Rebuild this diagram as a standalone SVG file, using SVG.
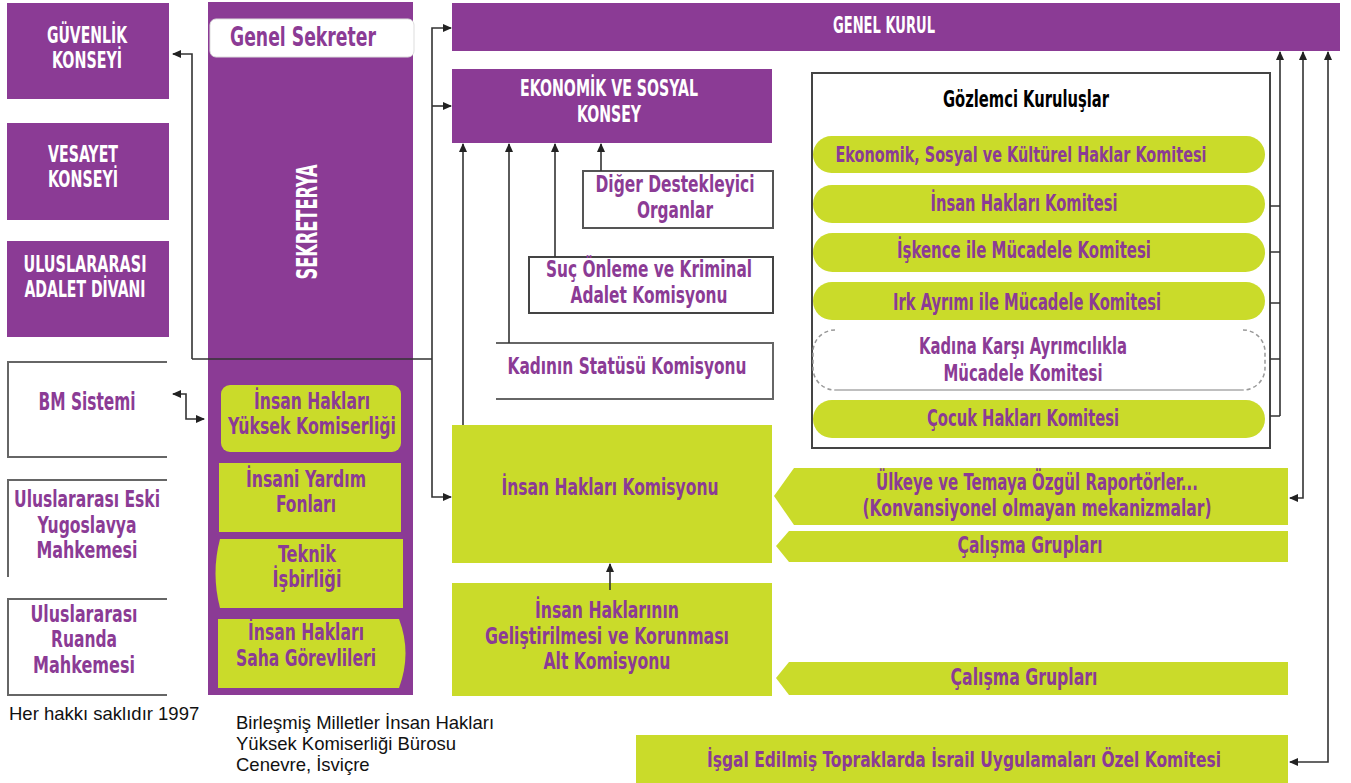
<svg xmlns="http://www.w3.org/2000/svg" width="1351" height="783" viewBox="0 0 1351 783">
<defs>
<style>
.p{fill:#8B3B95}
.g{fill:#CADB2A}
.t{font-family:"Liberation Sans Narrow","DejaVu Sans Condensed","Liberation Sans",sans-serif;font-weight:bold;font-size:23px;text-anchor:middle}
.w{fill:#fff}
.pt{fill:#8B3B95}
.k{fill:#000}
.f{font-family:"Liberation Sans",Arial,sans-serif;font-size:18.5px;fill:#111}
.c{fill:none;stroke:#333;stroke-width:1.6}
.b{fill:none;stroke:#666;stroke-width:2}
</style>
<marker id="ah" markerUnits="userSpaceOnUse" markerWidth="9" markerHeight="8" refX="8" refY="4" orient="auto-start-reverse">
<path d="M0,0 L9,4 L0,8 z" fill="#222"/>
</marker>
</defs>
<rect width="1351" height="783" fill="#fff"/>

<g id="guvenlik"><rect class="p" x="7" y="3" width="162" height="96"/>
<text class="t w" x="87" y="43" textLength="80" lengthAdjust="spacingAndGlyphs">GÜVENLİK</text>
<text class="t w" x="87" y="68" textLength="70" lengthAdjust="spacingAndGlyphs">KONSEYİ</text></g>

<g id="vesayet"><rect class="p" x="7" y="123" width="162" height="97"/>
<text class="t w" x="83" y="162" textLength="70" lengthAdjust="spacingAndGlyphs">VESAYET</text>
<text class="t w" x="83" y="187" textLength="70" lengthAdjust="spacingAndGlyphs">KONSEYİ</text></g>

<g id="uad"><rect class="p" x="7" y="241" width="162" height="96"/>
<text class="t w" x="85" y="272" textLength="123" lengthAdjust="spacingAndGlyphs">ULUSLARARASI</text>
<text class="t w" x="85" y="297" textLength="121" lengthAdjust="spacingAndGlyphs">ADALET DİVANI</text></g>

<g id="bm"><path class="b" d="M167,362 H8 V457 H167" stroke="#777"/>
<text class="t pt" x="87" y="410" style="font-size:24px" textLength="97" lengthAdjust="spacingAndGlyphs">BM Sistemi</text></g>

<g id="yugoslavya"><path class="b" d="M167,480 H8 V577" stroke="#999"/>
<text class="t pt" x="87" y="507" textLength="146" lengthAdjust="spacingAndGlyphs">Uluslararası Eski</text>
<text class="t pt" x="87" y="533" textLength="99" lengthAdjust="spacingAndGlyphs">Yugoslavya</text>
<text class="t pt" x="87" y="558" textLength="101" lengthAdjust="spacingAndGlyphs">Mahkemesi</text></g>

<g id="ruanda"><path class="b" d="M167,599 H8 V695 H167" stroke="#555"/>
<text class="t pt" x="84" y="622" textLength="107" lengthAdjust="spacingAndGlyphs">Uluslararası</text>
<text class="t pt" x="84" y="647" textLength="66" lengthAdjust="spacingAndGlyphs">Ruanda</text>
<text class="t pt" x="84" y="673" textLength="102" lengthAdjust="spacingAndGlyphs">Mahkemesi</text></g>

<g id="sekreterya"><rect class="p" x="208" y="2" width="205" height="693"/>
<text class="t w" transform="translate(317,222) rotate(-90)" x="0" y="0" style="font-size:29px" textLength="115" lengthAdjust="spacingAndGlyphs">SEKRETERYA</text></g>

<g id="genel-sekreter"><rect x="210" y="19" width="204" height="38" rx="6" fill="#fff" stroke="#ddd"/>
<text class="t pt" x="303" y="46" style="font-size:27px" textLength="146" lengthAdjust="spacingAndGlyphs">Genel Sekreter</text></g>

<g id="yuksek-komiserlik"><rect class="g" x="221" y="385" width="180" height="67" rx="9"/>
<text class="t pt" x="312" y="409" textLength="116" lengthAdjust="spacingAndGlyphs">İnsan Hakları</text>
<text class="t pt" x="312" y="434" textLength="168" lengthAdjust="spacingAndGlyphs">Yüksek Komiserliği</text></g>

<g id="insani-yardim"><rect class="g" x="219" y="463" width="182" height="69"/>
<text class="t pt" x="306" y="487" textLength="120" lengthAdjust="spacingAndGlyphs">İnsani Yardım</text>
<text class="t pt" x="306" y="512" textLength="60" lengthAdjust="spacingAndGlyphs">Fonları</text></g>

<g id="teknik"><path class="g" d="M220,539 H403 V608 H220 Q211,573 220,539 z"/>
<text class="t pt" x="307" y="562" textLength="58" lengthAdjust="spacingAndGlyphs">Teknik</text>
<text class="t pt" x="307" y="587" textLength="69" lengthAdjust="spacingAndGlyphs">İşbirliği</text></g>

<g id="saha"><path class="g" d="M218,619 H399 Q412,653 399,688 H218 z"/>
<text class="t pt" x="306" y="640" textLength="116" lengthAdjust="spacingAndGlyphs">İnsan Hakları</text>
<text class="t pt" x="306" y="666" textLength="140" lengthAdjust="spacingAndGlyphs">Saha Görevlileri</text></g>

<g id="genel-kurul"><rect class="p" x="452" y="3" width="888" height="48"/>
<text class="t w" x="884" y="33" textLength="102" lengthAdjust="spacingAndGlyphs">GENEL KURUL</text></g>

<g id="ecosoc"><rect class="p" x="452" y="69" width="320" height="74"/>
<text class="t w" x="609" y="96" textLength="178" lengthAdjust="spacingAndGlyphs">EKONOMİK VE SOSYAL</text>
<text class="t w" x="609" y="122" textLength="64" lengthAdjust="spacingAndGlyphs">KONSEY</text></g>

<g id="diger"><rect x="583" y="171" width="190" height="57" fill="#fff" stroke="#555" stroke-width="2"/>
<text class="t pt" x="675" y="192" textLength="159" lengthAdjust="spacingAndGlyphs">Diğer Destekleyici</text>
<text class="t pt" x="675" y="218" textLength="76" lengthAdjust="spacingAndGlyphs">Organlar</text></g>

<g id="suc"><rect x="529" y="257" width="244" height="56" fill="#fff" stroke="#444" stroke-width="2"/>
<text class="t pt" x="649" y="277" textLength="206" lengthAdjust="spacingAndGlyphs">Suç Önleme ve Kriminal</text>
<text class="t pt" x="649" y="303" textLength="157" lengthAdjust="spacingAndGlyphs">Adalet Komisyonu</text></g>

<g id="kadinin-statusu"><path class="b" d="M496,343 H773 V399 H496"/>
<text class="t pt" x="627" y="374" textLength="239" lengthAdjust="spacingAndGlyphs">Kadının Statüsü Komisyonu</text></g>

<g id="gozlemci"><rect x="812" y="73" width="458" height="375" fill="#fff" stroke="#444" stroke-width="2"/>
<text class="t k" x="1026" y="107" textLength="166" lengthAdjust="spacingAndGlyphs">Gözlemci Kuruluşlar</text></g>

<g id="esk-komitesi"><rect class="g" x="813" y="136" width="452" height="37" rx="18.5"/>
<text class="t pt" x="1021" y="162" style="font-size:21px" textLength="371" lengthAdjust="spacingAndGlyphs">Ekonomik, Sosyal ve Kültürel Haklar Komitesi</text></g>

<g id="ih-komitesi"><rect class="g" x="813" y="185" width="452" height="38" rx="19"/>
<text class="t pt" x="1024" y="211" textLength="187" lengthAdjust="spacingAndGlyphs">İnsan Hakları Komitesi</text></g>

<g id="iskence"><rect class="g" x="813" y="233" width="452" height="39" rx="19.5"/>
<text class="t pt" x="1024" y="258" textLength="254" lengthAdjust="spacingAndGlyphs">İşkence ile Mücadele Komitesi</text></g>

<g id="irk"><rect class="g" x="813" y="282" width="452" height="38" rx="19"/>
<text class="t pt" x="1027" y="310" textLength="268" lengthAdjust="spacingAndGlyphs">Irk Ayrımı ile Mücadele Komitesi</text></g>

<g id="kadina-karsi"><path d="M835,330 A22,22 0 0 0 813,352 V368 A22,22 0 0 0 835,390 M1243,330 A22,22 0 0 1 1265,352 V368 A22,22 0 0 1 1243,390" fill="none" stroke="#999" stroke-width="1.5" stroke-dasharray="4 3"/>
<path d="M835,390 H1243" stroke="#aaa" stroke-width="1.5"/>
<text class="t pt" x="1023" y="354" textLength="208" lengthAdjust="spacingAndGlyphs">Kadına Karşı Ayrımcılıkla</text>
<text class="t pt" x="1023" y="381" textLength="159" lengthAdjust="spacingAndGlyphs">Mücadele Komitesi</text></g>

<g id="cocuk"><rect class="g" x="813" y="400" width="452" height="38" rx="19"/>
<text class="t pt" x="1023" y="426" textLength="192" lengthAdjust="spacingAndGlyphs">Çocuk Hakları Komitesi</text></g>

<g id="ih-komisyonu"><rect class="g" x="452" y="425" width="320" height="138"/>
<text class="t pt" x="610" y="495" textLength="217" lengthAdjust="spacingAndGlyphs">İnsan Hakları Komisyonu</text></g>

<g id="alt-komisyon"><rect class="g" x="452" y="583" width="320" height="113"/>
<text class="t pt" x="607" y="618" textLength="144" lengthAdjust="spacingAndGlyphs">İnsan Haklarının</text>
<text class="t pt" x="607" y="644" textLength="244" lengthAdjust="spacingAndGlyphs">Geliştirilmesi ve Korunması</text>
<text class="t pt" x="607" y="669" textLength="127" lengthAdjust="spacingAndGlyphs">Alt Komisyonu</text></g>

<g id="raportorler"><path class="g" d="M794,468 H1288 V525 H794 L774,496 z"/>
<text class="t pt" x="1037" y="490" textLength="322" lengthAdjust="spacingAndGlyphs">Ülkeye ve Temaya Özgül Raportörler...</text>
<text class="t pt" x="1037" y="516" textLength="349" lengthAdjust="spacingAndGlyphs">(Konvansiyonel olmayan mekanizmalar)</text></g>

<g id="calisma-1"><path class="g" d="M789,531 H1288 V562 H789 L776,546 z"/>
<text class="t pt" x="1030" y="553" textLength="145" lengthAdjust="spacingAndGlyphs">Çalışma Grupları</text></g>

<g id="calisma-2"><path class="g" d="M789,662 H1288 V695 H789 L776,678 z"/>
<text class="t pt" x="1024" y="685" textLength="147" lengthAdjust="spacingAndGlyphs">Çalışma Grupları</text></g>

<g id="isgal"><rect class="g" x="636" y="735" width="652" height="48"/>
<text class="t pt" x="964" y="767" style="font-size:21px" textLength="514" lengthAdjust="spacingAndGlyphs">İşgal Edilmiş Topraklarda İsrail Uygulamaları Özel Komitesi</text></g>

<g id="connectors">
<path class="c" d="M192,359 V54 H173" marker-end="url(#ah)"/>
<path class="c" d="M192,359 H432"/>
<path class="c" d="M432,359 V28 H451" marker-end="url(#ah)"/>
<path class="c" d="M432,106 H451" marker-end="url(#ah)"/>
<path class="c" d="M432,359 V497 H451" marker-end="url(#ah)"/>
<path class="c" d="M173,394 H186 V419 H204" marker-start="url(#ah)" marker-end="url(#ah)"/>
<path class="c" d="M463,425 V144" marker-end="url(#ah)"/>
<path class="c" d="M509,343 V144" marker-end="url(#ah)"/>
<path class="c" d="M555,257 V144" marker-end="url(#ah)"/>
<path class="c" d="M601,171 V144" marker-end="url(#ah)"/>
<path class="c" d="M610,590 V564" marker-end="url(#ah)"/>
<path class="c" d="M1270,206 H1280 M1270,252 H1280 M1270,303 H1280 M1270,359 H1280 M1270,416 H1280"/>
<path class="c" d="M1280,416 V52" marker-end="url(#ah)"/>
<path class="c" d="M1290,498 H1303 V52" marker-start="url(#ah)" marker-end="url(#ah)"/>
<path class="c" d="M1290,762 H1328 V52" marker-start="url(#ah)" marker-end="url(#ah)"/>
</g>

<g id="footer">
<text class="f" x="9" y="720">Her hakkı saklıdır 1997</text>
<text class="f" x="236" y="729">Birleşmiş Milletler İnsan Hakları</text>
<text class="f" x="236" y="750">Yüksek Komiserliği Bürosu</text>
<text class="f" x="236" y="771">Cenevre, İsviçre</text>
</g>
</svg>
